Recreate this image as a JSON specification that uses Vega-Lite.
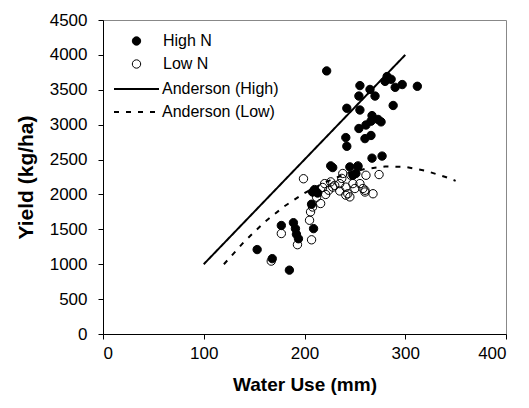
{
  "$schema": "https://vega.github.io/schema/vega-lite/v6.json",
  "autosize": "none",
  "width": 403,
  "height": 314,
  "padding": {"left": 103, "top": 20, "right": 23, "bottom": 74},
  "background": "white",
  "config": {
    "font": "Liberation Sans",
    "view": {"stroke": "#888888", "strokeWidth": 1},
    "axis": {
      "grid": false,
      "domainColor": "black",
      "tickColor": "black",
      "tickSize": 5,
      "labelFont": "Liberation Sans",
      "labelFontSize": 17,
      "labelColor": "black",
      "titleFont": "Liberation Sans",
      "titleFontSize": 19,
      "titleFontWeight": "bold",
      "titleColor": "black"
    },
    "legend": {
      "labelFont": "Liberation Sans",
      "labelFontSize": 16,
      "labelColor": "black"
    }
  },
  "datasets": {
    "pts": [
      {"series": "High N", "water": 222, "yield": 3770},
      {"series": "High N", "water": 255, "yield": 3560},
      {"series": "High N", "water": 265, "yield": 3505},
      {"series": "High N", "water": 270, "yield": 3410},
      {"series": "High N", "water": 254, "yield": 3410},
      {"series": "High N", "water": 282, "yield": 3690},
      {"series": "High N", "water": 286, "yield": 3650},
      {"series": "High N", "water": 280, "yield": 3620},
      {"series": "High N", "water": 290, "yield": 3535},
      {"series": "High N", "water": 297, "yield": 3575},
      {"series": "High N", "water": 312, "yield": 3550},
      {"series": "High N", "water": 242, "yield": 3235},
      {"series": "High N", "water": 255, "yield": 3210},
      {"series": "High N", "water": 288, "yield": 3275},
      {"series": "High N", "water": 267, "yield": 3130},
      {"series": "High N", "water": 273, "yield": 3075},
      {"series": "High N", "water": 276, "yield": 3040},
      {"series": "High N", "water": 254, "yield": 2945},
      {"series": "High N", "water": 261, "yield": 2995},
      {"series": "High N", "water": 266, "yield": 3050},
      {"series": "High N", "water": 241, "yield": 2815},
      {"series": "High N", "water": 242, "yield": 2690},
      {"series": "High N", "water": 266, "yield": 2845},
      {"series": "High N", "water": 260, "yield": 2800},
      {"series": "High N", "water": 277, "yield": 2550},
      {"series": "High N", "water": 267, "yield": 2520},
      {"series": "High N", "water": 226, "yield": 2410},
      {"series": "High N", "water": 228, "yield": 2385},
      {"series": "High N", "water": 245, "yield": 2395},
      {"series": "High N", "water": 253, "yield": 2400},
      {"series": "High N", "water": 251, "yield": 2300},
      {"series": "High N", "water": 248, "yield": 2275},
      {"series": "High N", "water": 210, "yield": 2070},
      {"series": "High N", "water": 208, "yield": 2035},
      {"series": "High N", "water": 213, "yield": 2020},
      {"series": "High N", "water": 207, "yield": 1860},
      {"series": "High N", "water": 177, "yield": 1555},
      {"series": "High N", "water": 189, "yield": 1595},
      {"series": "High N", "water": 191, "yield": 1510},
      {"series": "High N", "water": 192, "yield": 1430},
      {"series": "High N", "water": 194, "yield": 1365},
      {"series": "High N", "water": 209, "yield": 1510},
      {"series": "High N", "water": 153, "yield": 1210},
      {"series": "High N", "water": 168, "yield": 1080},
      {"series": "High N", "water": 185, "yield": 915},
      {"series": "Low N", "water": 199, "yield": 2225},
      {"series": "Low N", "water": 177, "yield": 1440},
      {"series": "Low N", "water": 167, "yield": 1045},
      {"series": "Low N", "water": 193, "yield": 1280},
      {"series": "Low N", "water": 207, "yield": 1350},
      {"series": "Low N", "water": 205, "yield": 1630},
      {"series": "Low N", "water": 206, "yield": 1750},
      {"series": "Low N", "water": 208, "yield": 1820},
      {"series": "Low N", "water": 216, "yield": 1870},
      {"series": "Low N", "water": 221, "yield": 2000},
      {"series": "Low N", "water": 220, "yield": 2155},
      {"series": "Low N", "water": 226, "yield": 2180},
      {"series": "Low N", "water": 228, "yield": 2105},
      {"series": "Low N", "water": 235, "yield": 2050},
      {"series": "Low N", "water": 238, "yield": 2300},
      {"series": "Low N", "water": 237, "yield": 2230},
      {"series": "Low N", "water": 241, "yield": 2105},
      {"series": "Low N", "water": 243, "yield": 2010},
      {"series": "Low N", "water": 245, "yield": 1965},
      {"series": "Low N", "water": 241, "yield": 1990},
      {"series": "Low N", "water": 246, "yield": 2275},
      {"series": "Low N", "water": 253, "yield": 2410},
      {"series": "Low N", "water": 255, "yield": 2155},
      {"series": "Low N", "water": 258, "yield": 2085},
      {"series": "Low N", "water": 260, "yield": 2035},
      {"series": "Low N", "water": 261, "yield": 2275},
      {"series": "Low N", "water": 250, "yield": 2085},
      {"series": "Low N", "water": 268, "yield": 2010},
      {"series": "Low N", "water": 274, "yield": 2285},
      {"series": "Low N", "water": 235, "yield": 2155},
      {"series": "Low N", "water": 248, "yield": 2155},
      {"series": "Low N", "water": 230, "yield": 2130},
      {"series": "Low N", "water": 260, "yield": 2060},
      {"series": "Low N", "water": 224, "yield": 2060},
      {"series": "Low N", "water": 212, "yield": 1960},
      {"series": "Low N", "water": 218, "yield": 2100}
    ],
    "anderson": [
      {"series": "Anderson (High)", "water": 100, "yield": 1000},
      {"series": "Anderson (High)", "water": 300, "yield": 4000},
      {"series": "Anderson (Low)", "water": 120, "yield": 1000},
      {"series": "Anderson (Low)", "water": 140, "yield": 1320},
      {"series": "Anderson (Low)", "water": 160, "yield": 1600},
      {"series": "Anderson (Low)", "water": 180, "yield": 1830},
      {"series": "Anderson (Low)", "water": 200, "yield": 2020},
      {"series": "Anderson (Low)", "water": 220, "yield": 2170},
      {"series": "Anderson (Low)", "water": 240, "yield": 2290},
      {"series": "Anderson (Low)", "water": 260, "yield": 2365},
      {"series": "Anderson (Low)", "water": 280, "yield": 2400},
      {"series": "Anderson (Low)", "water": 300, "yield": 2395},
      {"series": "Anderson (Low)", "water": 320, "yield": 2340},
      {"series": "Anderson (Low)", "water": 340, "yield": 2250},
      {"series": "Anderson (Low)", "water": 350, "yield": 2195}
    ]
  },
  "encoding": {
    "x": {
      "field": "water", "type": "quantitative",
      "scale": {"domain": [0, 400], "nice": false},
      "axis": {"values": [0, 100, 200, 300, 400], "format": "d", "title": "Water Use (mm)", "labelPadding": 6, "titlePadding": 14}
    },
    "y": {
      "field": "yield", "type": "quantitative",
      "scale": {"domain": [0, 4500], "nice": false},
      "axis": {"values": [0, 500, 1000, 1500, 2000, 2500, 3000, 3500, 4000, 4500], "format": "d", "title": "Yield (kg/ha)", "titleFontSize": 21, "labelPadding": 11, "titlePadding": 13}
    }
  },
  "layer": [
    {
      "data": {"name": "anderson"},
      "mark": {"type": "line", "stroke": "black", "strokeWidth": 2, "strokeCap": "butt"},
      "encoding": {
        "detail": {"field": "series"},
        "strokeDash": {
          "field": "series", "type": "nominal",
          "scale": {"domain": ["Anderson (High)", "Anderson (Low)"], "range": [[1, 0], [5, 7]]},
          "legend": {
            "title": null, "orient": "none", "legendX": 25.5, "legendY": 61,
            "symbolType": "M-5,0H5", "symbolSize": 81, "symbolStrokeColor": "black",
            "symbolStrokeWidth": 2, "labelOffset": 17.5, "rowPadding": 7, "padding": 0
          }
        }
      }
    },
    {
      "data": {"name": "pts"},
      "mark": {"type": "point", "filled": true, "shape": "circle", "size": 70, "stroke": "black", "strokeWidth": 1, "opacity": 1},
      "encoding": {
        "fill": {
          "field": "series", "type": "nominal",
          "scale": {"domain": ["High N", "Low N"], "range": ["black", "transparent"]},
          "legend": {
            "title": null, "orient": "none", "legendX": 25.5, "legendY": 13,
            "symbolType": "circle", "symbolSize": 70, "symbolStrokeColor": "black",
            "symbolStrokeWidth": 1, "labelOffset": 18.5, "rowPadding": 7, "padding": 0
          }
        }
      }
    }
  ]
}
